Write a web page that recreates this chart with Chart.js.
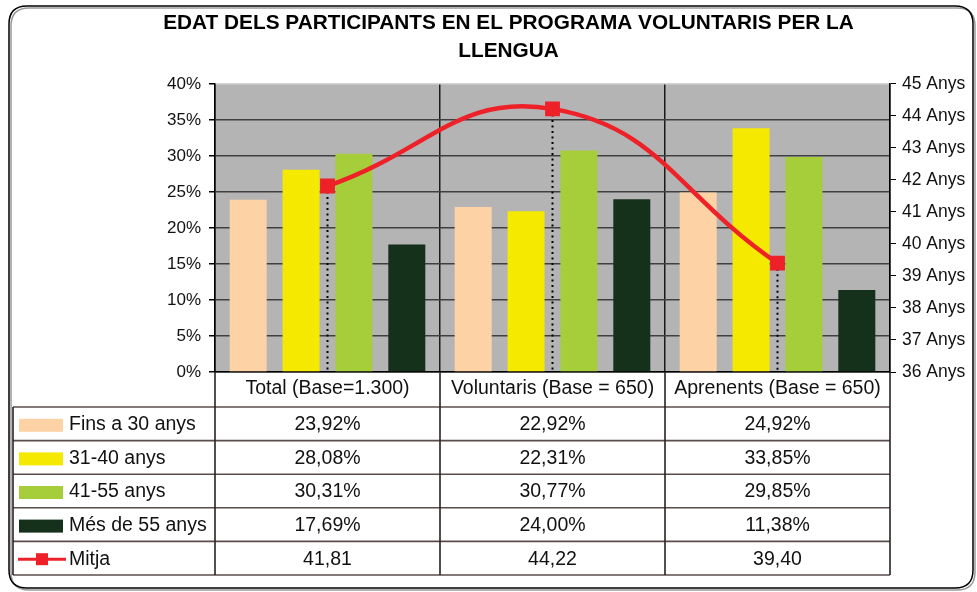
<!DOCTYPE html>
<html lang="ca">
<head>
<meta charset="utf-8">
<title>Edat dels participants</title>
<script src="https://cdn.jsdelivr.net/npm/chart.js@4.4.1/dist/chart.umd.min.js"></script>
<style>
  html, body { margin: 0; padding: 0; background: #fff; }
  #wrap { width: 977px; height: 592px; }
</style>
</head>
<body>
<div id="wrap"><canvas id="edatChart" width="977" height="592"></canvas></div>
<script>
// Dades del gràfic
const titleLines = ['EDAT DELS PARTICIPANTS EN EL PROGRAMA VOLUNTARIS PER LA', 'LLENGUA'];
const categories = ['Total (Base=1.300)', 'Voluntaris (Base = 650)', 'Aprenents (Base = 650)'];
const seriesNames = ['Fins a 30 anys', '31-40 anys', '41-55 anys', 'Més de 55 anys'];
const fins30 = [23.92, 22.92, 24.92];
const de31a40 = [28.08, 22.31, 33.85];
const de41a55 = [30.31, 30.77, 29.85];
const mesDe55 = [17.69, 24.00, 11.38];
const mitjaName = 'Mitja';
const mitja = [41.81, 44.22, 39.40];

// Escales: percentatge a l'esquerra, anys a la dreta
const pctMin = 0, pctMax = 40, pctStep = 5;
const anysMin = 36, anysMax = 45, anysStep = 1;

const barColors = ['#fdd3a5', '#f6e900', '#a6cd3a', '#15301b'];
const lineColor = '#ee2128';
const FONT = "'Liberation Sans', Arial, sans-serif";

function fmt(v, suffix) {
    return v.toFixed(2).replace('.', ',') + suffix;
}

function roundRect(ctx, x, y, w, h, r) {
    ctx.beginPath();
    ctx.moveTo(x + r, y);
    ctx.lineTo(x + w - r, y);
    ctx.quadraticCurveTo(x + w, y, x + w, y + r);
    ctx.lineTo(x + w, y + h - r);
    ctx.quadraticCurveTo(x + w, y + h, x + w - r, y + h);
    ctx.lineTo(x + r, y + h);
    ctx.quadraticCurveTo(x, y + h, x, y + h - r);
    ctx.lineTo(x, y + r);
    ctx.quadraticCurveTo(x, y, x + r, y);
    ctx.closePath();
}

// Marc arrodonit i fons gris de l'àrea del gràfic
const backgroundPlugin = {
    id: 'background',
    beforeDraw(chart) {
        const ctx = chart.ctx;
        const a = chart.chartArea;
        ctx.save();
        ctx.fillStyle = '#fff';
        ctx.fillRect(0, 0, chart.width, chart.height);
        ctx.lineWidth = 1.5;
        ctx.strokeStyle = '#9a9a9a';
        roundRect(ctx, 11, 8, 964, 582, 18);
        ctx.stroke();
        ctx.strokeStyle = '#000';
        roundRect(ctx, 9, 6, 964, 582, 18);
        ctx.stroke();
        ctx.fillStyle = '#b4b4b4';
        ctx.fillRect(a.left, a.top, a.right - a.left, a.bottom - a.top);
        ctx.restore();
    }
};

// Línies de punts des de cada marcador fins a l'eix
const dropLinesPlugin = {
    id: 'dropLines',
    beforeDatasetsDraw(chart) {
        const ctx = chart.ctx;
        const meta = chart.getDatasetMeta(4);
        ctx.save();
        ctx.strokeStyle = '#000';
        ctx.lineWidth = 2;
        ctx.setLineDash([2, 3.5]);
        meta.data.forEach(pt => {
            ctx.beginPath();
            ctx.moveTo(pt.x, pt.y);
            ctx.lineTo(pt.x, chart.chartArea.bottom);
            ctx.stroke();
        });
        ctx.restore();
    }
};

// Taula de dades sota el gràfic
const dataTablePlugin = {
    id: 'dataTable',
    afterDraw(chart) {
        const ctx = chart.ctx;
        const a = chart.chartArea;
        const xs = chart.scales.x;
        const headerH = 35;
        const rowH = 33.6;
        const tableLeft = 13;
        const rows = [fins30, de31a40, de41a55, mesDe55, mitja];
        const names = seriesNames.concat([mitjaName]);
        const bounds = [a.left];
        categories.forEach((c, i) => bounds.push(xs.getPixelForValue(i + 0.5)));
        const firstTop = a.bottom + headerH;
        const tableBottom = firstTop + rowH * rows.length;

        ctx.save();
        // línies horitzontals
        ctx.strokeStyle = '#5b4c4c';
        ctx.lineWidth = 1.6;
        for (let r = 0; r <= rows.length; r++) {
            const y = firstTop + rowH * r;
            ctx.beginPath();
            ctx.moveTo(tableLeft, y);
            ctx.lineTo(bounds[bounds.length - 1], y);
            ctx.stroke();
        }
        // línies verticals
        ctx.strokeStyle = '#2a2222';
        ctx.beginPath();
        ctx.moveTo(tableLeft, firstTop);
        ctx.lineTo(tableLeft, tableBottom);
        bounds.forEach(x => {
            ctx.moveTo(x, a.bottom);
            ctx.lineTo(x, tableBottom);
        });
        ctx.stroke();

        // textos i llegenda
        ctx.font = '19.5px ' + FONT;
        ctx.textBaseline = 'middle';
        rows.forEach((vals, r) => {
            const cy = firstTop + rowH * r + rowH / 2 + 1;
            if (r < seriesNames.length) {
                ctx.fillStyle = barColors[r];
                ctx.fillRect(19, cy - 6, 44, 13);
            } else {
                ctx.strokeStyle = lineColor;
                ctx.lineWidth = 3;
                ctx.beginPath();
                ctx.moveTo(18, cy);
                ctx.lineTo(66, cy);
                ctx.stroke();
                ctx.fillStyle = lineColor;
                ctx.fillRect(36, cy - 6, 12, 12);
            }
            ctx.fillStyle = '#111';
            ctx.textAlign = 'left';
            ctx.fillText(names[r], 69, cy);
            ctx.textAlign = 'center';
            vals.forEach((v, i) => {
                const txt = r < seriesNames.length ? fmt(v, '%') : fmt(v, '');
                ctx.fillText(txt, xs.getPixelForValue(i), cy);
            });
        });
        ctx.restore();
    }
};

const barDataset = (label, data, color) => ({
    type: 'bar',
    label: label,
    data: data,
    backgroundColor: color,
    borderWidth: 0,
    categoryPercentage: 0.94,
    barPercentage: 0.7,
    yAxisID: 'y',
    order: 1
});

const ctx = document.getElementById('edatChart').getContext('2d');
const edatChart = new Chart(ctx, {
    data: {
        labels: categories,
        datasets: [
            barDataset(seriesNames[0], fins30, barColors[0]),
            barDataset(seriesNames[1], de31a40, barColors[1]),
            barDataset(seriesNames[2], de41a55, barColors[2]),
            barDataset(seriesNames[3], mesDe55, barColors[3]),
            {
                type: 'line',
                label: mitjaName,
                data: mitja,
                borderColor: lineColor,
                borderWidth: 4.5,
                tension: 0.45,
                pointStyle: 'rect',
                pointRadius: 10.5,
                pointBackgroundColor: lineColor,
                pointBorderWidth: 0,
                yAxisID: 'y1',
                order: 0
            }
        ]
    },
    options: {
        responsive: false,
        devicePixelRatio: 1,
        animation: false,
        layout: { padding: { left: 40, right: 0, top: 0, bottom: 0 } },
        plugins: {
            legend: { display: false },
            tooltip: { enabled: false },
            title: {
                display: true,
                text: titleLines,
                color: '#000',
                font: { family: FONT, size: 20.8, weight: 'bold', lineHeight: 1.32 },
                padding: { top: 10, bottom: 19 }
            }
        },
        scales: {
            x: {
                offset: true,
                grid: { offset: true, color: '#1a1a1a', lineWidth: 1.5, drawTicks: false },
                border: { color: '#000', width: 1.5 },
                ticks: {
                    color: '#111',
                    font: { family: FONT, size: 19.5 },
                    padding: 5,
                    maxRotation: 0,
                    autoSkip: false
                },
                afterFit(scale) { scale.height = 220; }
            },
            y: {
                position: 'left',
                min: pctMin,
                max: pctMax,
                ticks: {
                    stepSize: pctStep,
                    color: '#111',
                    font: { family: FONT, size: 17 },
                    padding: 8,
                    callback: v => v + '%'
                },
                grid: {
                    color: c => (c.tick && c.tick.value === pctMax) ? '#d4d4d4' : '#404040',
                    lineWidth: 1.5,
                    tickColor: '#000',
                    tickLength: 6
                },
                border: { color: '#000', width: 1.5 },
                afterFit(scale) { scale.width = 175; }
            },
            y1: {
                position: 'right',
                min: anysMin,
                max: anysMax,
                ticks: {
                    stepSize: anysStep,
                    color: '#111',
                    font: { family: FONT, size: 17.5 },
                    padding: 6,
                    callback: v => v + ' Anys'
                },
                grid: { drawOnChartArea: false, tickColor: '#000', tickLength: 6 },
                border: { color: '#000', width: 1.5 },
                afterFit(scale) { scale.width = 87; }
            }
        }
    },
    plugins: [backgroundPlugin, dropLinesPlugin, dataTablePlugin]
});
</script>
</body>
</html>
